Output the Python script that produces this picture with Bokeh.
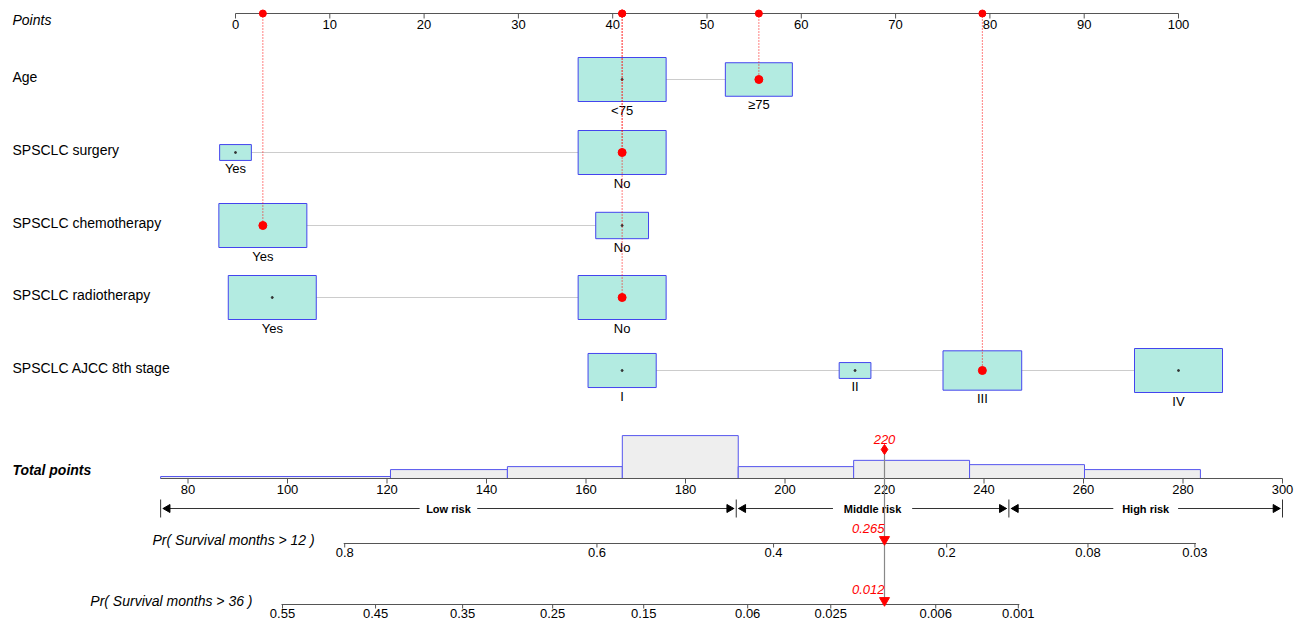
from bokeh.plotting import figure
from bokeh.models import Range1d
from bokeh.core.properties import value
from bokeh.embed import file_html
from bokeh.resources import INLINE

# ---- data ----
point_ticks = list(range(0, 101, 10))
variables = ["Age", "SPSCLC surgery", "SPSCLC chemotherapy", "SPSCLC radiotherapy", "SPSCLC AJCC 8th stage"]
levels = [["<75", "\u226575"], ["Yes", "No"], ["Yes", "No"], ["Yes", "No"], ["I", "II", "III", "IV"]]
level_points = [[41, 55.5], [0, 41], [2.9, 41], [3.9, 41], [41, 65.7, 79.2, 100]]
level_freq = [[1.0, 0.58], [0.13, 1.0], [1.0, 0.36], [1.0, 1.0], [0.6, 0.13, 0.8, 1.0]]
chosen = [1, 1, 0, 1, 2]

total_ticks = list(range(80, 301, 20))
hist_edges = [74.5, 120.7, 144.2, 167.3, 190.6, 213.8, 237.1, 260.2, 283.5]
hist_counts = [0.06, 0.27, 0.36, 1.3, 0.36, 0.55, 0.42, 0.27]
risk_cuts = [74.5, 190.2, 245.0, 300.0]
risk_labels = ["Low risk", "Middle risk", "High risk"]

pr12_labels = ["0.8", "0.6", "0.4", "0.2", "0.08", "0.03"]
pr12_at = [111.5, 162.2, 197.7, 232.5, 260.9, 282.4]
pr36_labels = ["0.55", "0.45", "0.35", "0.25", "0.15", "0.06", "0.025", "0.006", "0.001"]
pr36_at = [99.0, 117.7, 135.2, 153.3, 171.6, 192.5, 209.2, 230.3, 246.9]
total_score = 220
pr12_value = "0.265"
pr36_value = "0.012"

# ---- scales (reference pixel space) ----
def px_pts(v):
    return 235 + 9.43 * v

def px_tot(v):
    return 187.5 + 4.975 * (v - 80)

FONT = value("Liberation Sans")
p = figure(width=1300, height=623, output_backend="svg", toolbar_location=None,
           x_range=Range1d(0, 1300), y_range=Range1d(623, 0), min_border=0)
p.axis.visible = False
p.grid.visible = False
p.outline_line_color = None

def txt(x, y, s, size="13px", align="left", base="middle", color="black", style="normal"):
    p.text(x=[x], y=[y], text=[s], text_font=FONT, text_font_size=size, text_align=align,
           text_baseline=base, text_color=color, text_font_style=style)

# left labels
row_y = [79, 152, 225, 297, 370]
txt(12, 19, "Points", style="italic", size="14px")
for name, y in zip(variables, row_y):
    txt(12, y - 3, name, size="14px")
txt(12, 469, "Total points", style="bold italic", size="14px")

# points axis
p.segment(px_pts(0), 13, px_pts(100), 13, line_color="#555555", line_width=1.2)
p.segment([px_pts(t) for t in point_ticks], 13, [px_pts(t) for t in point_ticks], 18, line_color="#555555")
for t in point_ticks:
    txt(px_pts(t), 19, str(t), align="center", base="top")

# variable rows
box_w, box_h = 88, 44
for lv, pts, fr, y, ch in zip(levels, level_points, level_freq, row_y, chosen):
    xs = [px_pts(v) for v in pts]
    p.line(xs, [y] * len(xs), line_color="#cccccc")
    ws = [box_w * f ** 0.5 for f in fr]
    hs = [box_h * f ** 0.5 for f in fr]
    p.rect(xs, [y] * len(xs), width=ws, height=hs, fill_color="#b3ebe1", line_color="#4444ee")
    p.scatter(xs, [y] * len(xs), size=2, color="#333333")
    for x, h, s in zip(xs, hs, lv):
        txt(x, y + h / 2 + 1, s, align="center", base="top")
    xc = xs[ch]
    p.segment(xc, 13, xc, y, line_color="red", line_dash="1 2", line_width=1)
    p.scatter([xc], [y], size=8, color="red")
    p.scatter([xc], [13], size=7, color="red")

# histogram
hx0 = [px_tot(e) for e in hist_edges[:-1]]
hx1 = [px_tot(e) for e in hist_edges[1:]]
p.quad(left=hx0, right=hx1, bottom=478, top=[478 - 33 * c for c in hist_counts],
       fill_color="#eeeeee", line_color="#5555ee")

# total points axis
p.segment(px_tot(74.5), 478, px_tot(300), 478, line_color="#555555", line_width=1.2)
p.segment([px_tot(t) for t in total_ticks], 478, [px_tot(t) for t in total_ticks], 483, line_color="#555555")
for t in total_ticks:
    txt(px_tot(t), 484, str(t), align="center", base="top")

# risk groups
ry = 508
for i, lab in enumerate(risk_labels):
    a, b = px_tot(risk_cuts[i]) + 2, px_tot(risk_cuts[i + 1]) - 2
    p.segment(a, ry, b, ry, line_color="#333333")
    p.scatter([a + 5], [ry], marker="triangle", angle=1.5708, size=8, color="black")
    p.scatter([b - 5], [ry], marker="triangle", angle=-1.5708, size=8, color="black")
    mid = (a + b) / 2
    p.rect([mid], [ry], width=len(lab) * 7.2, height=12, fill_color="white", line_color=None)
    txt(mid, ry, lab, size="11px", style="bold", align="center")
p.segment([px_tot(c) for c in risk_cuts], ry - 9, [px_tot(c) for c in risk_cuts], ry + 9, line_color="#333333")

# probability axes
for lab, labs, at, y in [("Pr( Survival months > 12 )", pr12_labels, pr12_at, 543),
                         ("Pr( Survival months > 36 )", pr36_labels, pr36_at, 604)]:
    txt(px_tot(at[0]) - 30, y - 4, lab, align="right", style="italic", size="14px")
    p.segment(px_tot(at[0]) - 1, y, px_tot(at[-1]) + 1, y, line_color="#555555", line_width=1.2)
    p.segment([px_tot(a) for a in at], y, [px_tot(a) for a in at], y + 4, line_color="#555555")
    for a, s in zip(at, labs):
        txt(px_tot(a), y + 4, s, align="center", base="top")

# result marker
xt = px_tot(total_score)
p.segment(xt, 449, xt, 604, line_color="#888888", line_width=1.2)
p.scatter([xt], [449], marker="diamond", size=10, color="red")
txt(xt, 439, str(total_score), align="center", color="red", style="italic")
for y, v in [(543, pr12_value), (604, pr36_value)]:
    p.scatter([xt], [y - 4], marker="inverted_triangle", size=10, color="red")
    txt(xt, y - 15, v, align="right", color="red", style="italic")

open("out.html", "w").write(file_html(p, INLINE))
